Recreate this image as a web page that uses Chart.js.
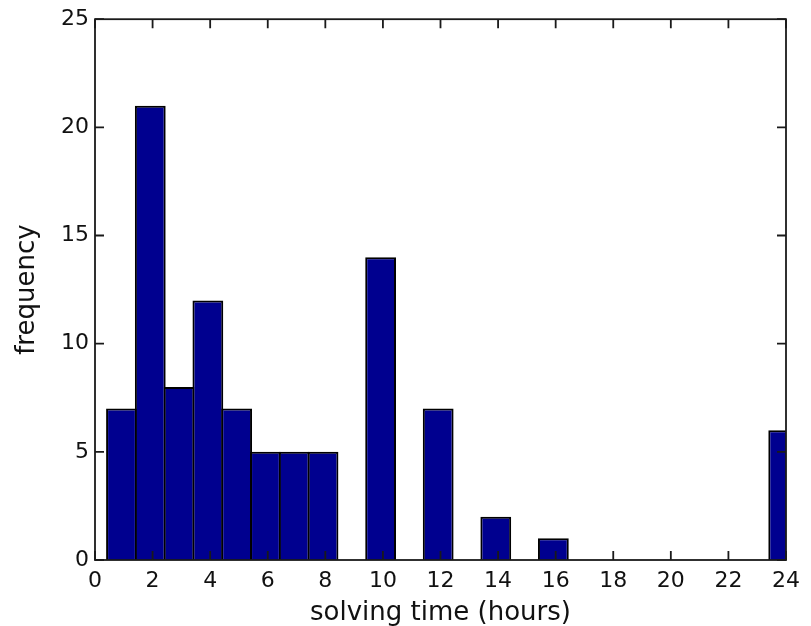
<!DOCTYPE html>
<html>
<head>
<meta charset="utf-8">
<title>solving time histogram</title>
<script src="https://cdn.jsdelivr.net/npm/chart.js@4.4.1/dist/chart.umd.min.js"></script>
<style>
    html, body { margin: 0; padding: 0; background: #fff; }
    #wrap { width: 811px; height: 626px; position: relative; }
</style>
</head>
<body>
<div id="wrap"><canvas id="histChart"></canvas></div>
<script>
// histogram bins (centre of each one-hour bin) and their counts
const binCenters = [0.92, 1.92, 2.92, 3.92, 4.92, 5.92, 6.92, 7.92, 8.92, 9.92, 10.92, 11.92,
                    12.92, 13.92, 14.92, 15.92, 16.92, 17.92, 18.92, 19.92, 20.92, 21.92, 22.92, 23.92];
const counts     = [7, 21, 8, 12, 7, 5, 5, 5, 0, 14, 0, 7,
                    0, 2, 0, 1, 0, 0, 0, 0, 0, 0, 0, 6];
const xTicks = [0, 2, 4, 6, 8, 10, 12, 14, 16, 18, 20, 22, 24];
const yTicks = [0, 5, 10, 15, 20, 25];

const BAR = '#00008f', INK = '#111', AXIS = '#1a1a1a', TICK = 9;
const FONT = "'DejaVu Sans', sans-serif";

// MATLAB-style box with inward ticks on all four sides
const frameTicks = {
    id: 'frameTicks',
    afterDatasetsDraw(chart) {
        const { ctx, chartArea: a, scales: { x, y } } = chart;
        ctx.save();
        ctx.strokeStyle = AXIS;
        ctx.lineWidth = 1.8;
        ctx.strokeRect(a.left, a.top, a.right - a.left, a.bottom - a.top);
        ctx.beginPath();
        xTicks.forEach(v => {
            const px = x.getPixelForValue(v);
            ctx.moveTo(px, a.bottom); ctx.lineTo(px, a.bottom - TICK);
            ctx.moveTo(px, a.top);    ctx.lineTo(px, a.top + TICK);
        });
        yTicks.forEach(v => {
            const py = y.getPixelForValue(v);
            ctx.moveTo(a.left, py);  ctx.lineTo(a.left + TICK, py);
            ctx.moveTo(a.right, py); ctx.lineTo(a.right - TICK, py);
        });
        ctx.stroke();
        ctx.restore();
    }
};

new Chart(document.getElementById('histChart'), {
    type: 'bar',
    data: {
        datasets: [{
            data: binCenters.map((c, i) => ({ x: c, y: counts[i] })),
            backgroundColor: BAR,
            borderColor: '#000',
            borderWidth: 2,
            borderSkipped: 'start',
            barPercentage: 1.07,
            categoryPercentage: 1,
            clip: 0
        }]
    },
    options: {
        responsive: true, maintainAspectRatio: false, animation: false,
        layout: { padding: { top: 17, right: 25, bottom: 0, left: 0 } },
        plugins: { legend: { display: false }, tooltip: { enabled: false } },
        scales: {
            x: {
                type: 'linear', min: 0, max: 24, offset: false,
                afterBuildTicks: s => { s.ticks = xTicks.map(v => ({ value: v })); },
                afterFit: s => { s.height = 66; },
                grid: { display: false, drawTicks: false, offset: false },
                border: { display: false },
                ticks: { padding: 8, maxRotation: 0, autoSkip: false, color: INK, font: { family: FONT, size: 22 } },
                title: { display: true, text: 'solving time (hours)', color: INK,
                         font: { family: FONT, size: 26, lineHeight: 1 }, padding: { top: 0, bottom: 0 } }
            },
            y: {
                min: 0, max: 25,
                afterBuildTicks: s => { s.ticks = yTicks.map(v => ({ value: v })); },
                afterFit: s => { s.width = 95; },
                grid: { display: false, drawTicks: false },
                border: { display: false },
                ticks: { padding: 6, color: INK, font: { family: FONT, size: 22 } },
                title: { display: true, text: 'frequency', color: INK,
                         font: { family: FONT, size: 26, lineHeight: 1 }, padding: { top: 14, bottom: 0 } }
            }
        }
    },
    plugins: [frameTicks]
});
</script>
</body>
</html>
